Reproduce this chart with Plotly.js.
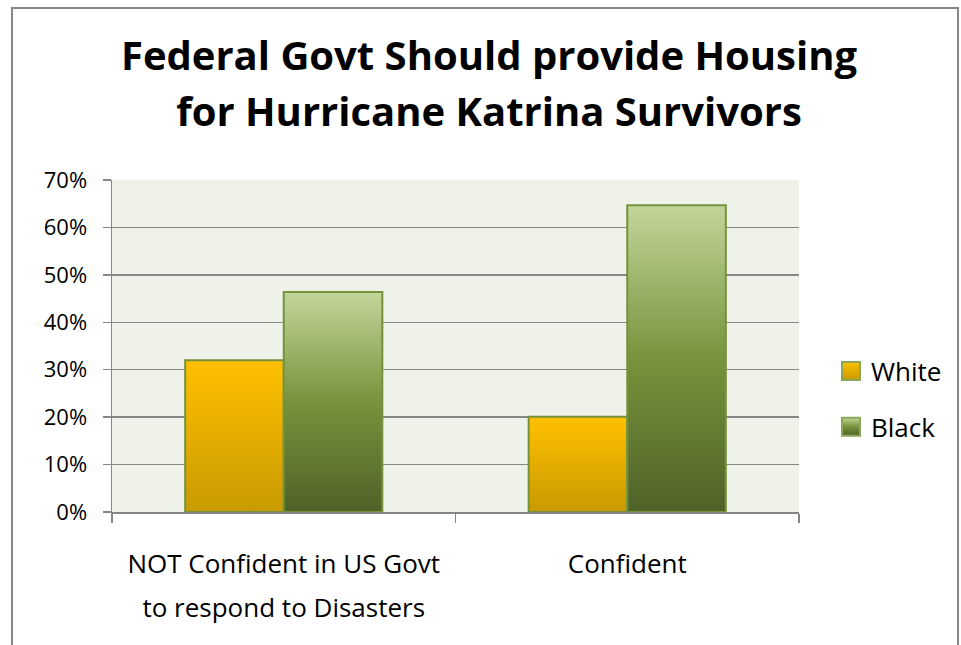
<!DOCTYPE html>
<html>
<head>
<meta charset="utf-8">
<script src="https://cdn.plot.ly/plotly-3.0.1.min.js"></script>
<style>
  html, body { margin: 0; padding: 0; background: #ffffff; }
  #chart { width: 961px; height: 645px; }
</style>
</head>
<body>
<div id="chart"></div>
<script>
const categories = ["NOT Confident in US Govt<br>to respond to Disasters", "Confident"];
const seriesNames = ["White", "Black"];
const whiteValues = [0.32, 0.201];
const blackValues = [0.464, 0.647];
const yTickValues = [0, 0.1, 0.2, 0.3, 0.4, 0.5, 0.6, 0.7];
const yTickLabels = ["0%", "10%", "20%", "30%", "40%", "50%", "60%", "70%"];

const FONT = "'Open Sans', Lato, sans-serif";
const W = 961, H = 645;
const M = {l: 112, r: 162, t: 180, b: 133};
const pw = W - M.l - M.r, ph = H - M.t - M.b;
function px(x) { return (x - M.l) / pw; }
function py(y) { return (H - M.b - y) / ph; }

const traces = [
  {
    type: "bar", name: seriesNames[0], x: categories, y: whiteValues,
    legendgroup: "w",
    marker: {color: "#E8AE00", line: {color: "#76923C", width: 2}},
    hoverinfo: "skip"
  },
  {
    type: "bar", name: seriesNames[1], x: categories, y: blackValues,
    legendgroup: "b",
    marker: {color: "#6E8A36", line: {color: "#76923C", width: 2}},
    hoverinfo: "skip"
  }
];

const layout = {
  width: W, height: H,
  margin: M,
  paper_bgcolor: "#ffffff",
  plot_bgcolor: "#EEF2E8",
  font: {family: FONT, color: "#000000"},
  title: {
    text: "<b>Federal Govt Should provide Housing<br>for Hurricane Katrina Survivors</b>",
    font: {family: FONT, size: 40, color: "#000000"},
    x: 489 / W, xref: "container", xanchor: "center",
    y: 1 - 70 / H, yref: "container", yanchor: "top"
  },
  barmode: "group",
  bargap: 0.426,
  bargroupgap: 0,
  xaxis: {
    type: "category",
    tickson: "boundaries",
    ticks: "outside", ticklen: 9, tickcolor: "#878787", tickwidth: 1.5,
    showline: true, linecolor: "#878787", linewidth: 1.5,
    showgrid: false,
    tickfont: {family: FONT, size: 26, color: "#000000"},
    ticklabelstandoff: 28,
    fixedrange: true
  },
  yaxis: {
    range: [0, 0.7],
    tickvals: yTickValues, ticktext: yTickLabels,
    ticks: "outside", ticklen: 8, tickcolor: "#878787", tickwidth: 1.5,
    showline: true, linecolor: "#878787", linewidth: 1.5,
    showgrid: true, gridcolor: "#878787", gridwidth: 1.5,
    zeroline: false,
    tickfont: {family: FONT, size: 22, color: "#000000"},
    ticklabelstandoff: 11,
    fixedrange: true
  },
  legend: {
    x: px(831), xanchor: "left",
    y: py(399), yanchor: "middle",
    font: {family: FONT, size: 26, color: "#000000"},
    traceorder: "grouped",
    tracegroupgap: 19,
    itemwidth: 30,
    bgcolor: "rgba(0,0,0,0)"
  },
  shapes: [
    {
      type: "rect", xref: "paper", yref: "paper", layer: "below",
      x0: px(12), x1: px(958), y0: py(660), y1: py(8),
      line: {color: "#878787", width: 2}, fillcolor: "rgba(0,0,0,0)"
    }
  ]
};

Plotly.newPlot("chart", traces, layout, {staticPlot: true, displayModeBar: false}).then(function (gd) {
  const svg = gd.querySelector("svg.main-svg");
  const NS = "http://www.w3.org/2000/svg";
  let defs = svg.querySelector("defs");
  if (!defs) { defs = document.createElementNS(NS, "defs"); svg.insertBefore(defs, svg.firstChild); }
  function grad(id, stops) {
    const g = document.createElementNS(NS, "linearGradient");
    g.setAttribute("id", id);
    g.setAttribute("x1", "0"); g.setAttribute("y1", "0");
    g.setAttribute("x2", "0"); g.setAttribute("y2", "1");
    stops.forEach(function (s) {
      const st = document.createElementNS(NS, "stop");
      st.setAttribute("offset", s[0]);
      st.setAttribute("stop-color", s[1]);
      g.appendChild(st);
    });
    defs.appendChild(g);
  }
  grad("gWhite", [["0", "#FFC000"], ["1", "#C99A00"]]);
  grad("gBlack", [["0", "#C3D69B"], ["0.5", "#77933C"], ["1", "#4F6228"]]);
  const ids = ["gWhite", "gBlack"];
  gd.querySelectorAll(".barlayer .trace").forEach(function (t, i) {
    t.querySelectorAll("path").forEach(function (p) {
      p.style.fill = "url(#" + ids[i] + ")";
    });
  });
  gd.querySelectorAll(".legend .traces").forEach(function (t, i) {
    t.querySelectorAll(".legendpoints path").forEach(function (p) {
      p.setAttribute("d", "M9,9H-9V-9H9Z");
      p.style.fill = "url(#" + ids[i] + ")";
      p.style.stroke = "#8AA65A";
      p.style.strokeWidth = "2px";
    });
  });
  function spaceLines(sel, gap) {
    gd.querySelectorAll(sel).forEach(function (txt) {
      const lines = txt.querySelectorAll("tspan.line");
      lines.forEach(function (ln, k) { if (k > 0) ln.setAttribute("dy", gap + "px"); });
    });
  }
  spaceLines(".gtitle", 56);
  spaceLines(".xtick text", 44);
});
</script>
</body>
</html>
